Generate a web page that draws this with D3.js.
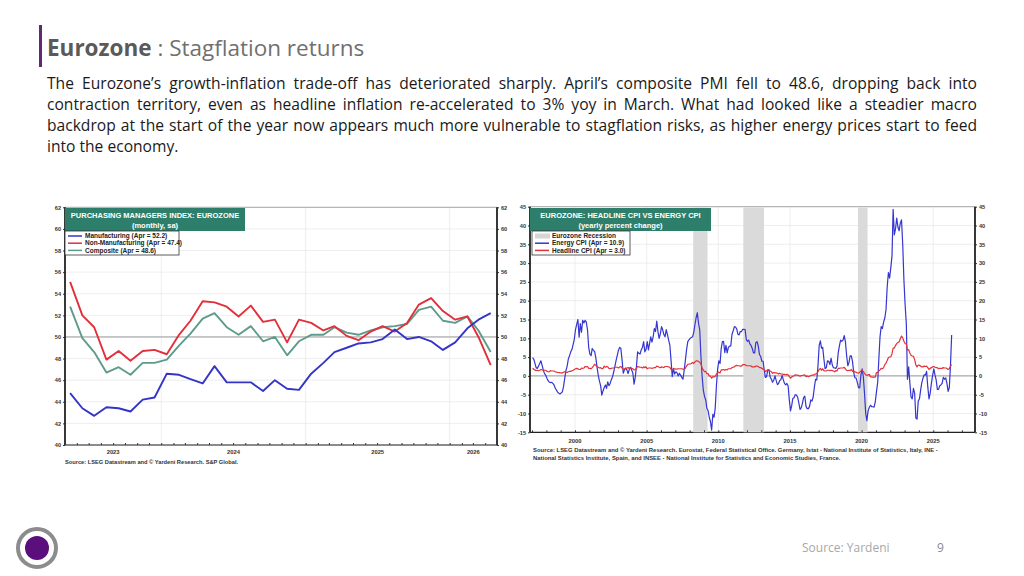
<!DOCTYPE html>
<html>
<head>
<meta charset="utf-8">
<script src="https://cdn.jsdelivr.net/npm/d3@7"></script>
<style>
body { margin: 0; background: #fff; }
svg { display: block; }
.chart text { font-family: "Liberation Sans", Arial, sans-serif; font-weight: bold; }
</style>
</head>
<body>
<svg id="page" width="1024" height="576"></svg>
<script>
// PMI, Eurozone, monthly May 2023 .. Apr 2026
var pmiManufacturing = [44.8, 43.4, 42.7, 43.5, 43.4, 43.1, 44.2, 44.4,
    46.6, 46.5, 46.1, 45.7, 47.3, 45.8, 45.8, 45.8, 45.0, 46.0, 45.2, 45.1,
    46.6, 47.6, 48.6, 49.0, 49.4, 49.5, 49.8, 50.7, 49.8, 50.0, 49.6, 48.8,
    49.5, 50.8, 51.6, 52.2];
var pmiNonManufacturing = [55.1, 52.0, 50.9, 47.9, 48.7, 47.8, 48.7, 48.8,
    48.4, 50.2, 51.5, 53.3, 53.2, 52.8, 51.9, 52.9, 51.4, 51.6, 49.5, 51.6,
    51.3, 50.6, 51.0, 50.1, 49.7, 50.5, 51.0, 50.5, 51.3, 53.0, 53.6, 52.4,
    51.6, 51.9, 50.0, 47.4];
var pmiComposite = [52.8, 49.9, 48.6, 46.7, 47.2, 46.5, 47.6, 47.6,
    47.9, 49.2, 50.3, 51.7, 52.2, 50.9, 50.2, 51.0, 49.6, 50.0, 48.3, 49.6,
    50.2, 50.2, 50.9, 50.4, 50.2, 50.6, 50.9, 51.0, 51.2, 52.5, 52.8, 51.5,
    51.3, 51.9, 50.6, 48.6];
var pmiYTicks = [40, 42, 44, 46, 48, 50, 52, 54, 56, 58, 60, 62];
var pmiYears = [2023, 2024, 2025, 2026];
var pmiLegend = ["Manufacturing (Apr = 52.2)", "Non-Manufacturing (Apr = 47.4)", "Composite (Apr = 48.6)"];

// CPI, Eurozone, yearly percent change, monthly Jan 1997 .. Apr 2026
var cpiEnergy = [
    4.9, 4.4, 3.4, 2.2, 2.0, 2.6, 3.3, 4.0, 2.8, 1.6, 0.6, 0.2,
    -0.6, -1.3, -1.6, -1.8, -1.7, -2.0, -2.4, -3.2, -3.8, -4.3, -4.6, -4.8,
    -4.5, -4.2, -2.8, -0.6, 1.4, 2.6, 4.5, 5.4, 6.4, 7.0, 8.4, 9.8,
    12.4, 13.8, 15.0, 10.3, 13.9, 11.6, 14.8, 14.1, 14.8, 14.3, 12.2, 7.6,
    5.8, 5.4, 7.3, 6.8, 6.5, 4.8, 2.4, 0.2, -1.4, -2.6, -5.1, -4.0,
    -3.1, -2.4, -3.3, -1.6, -2.6, -2.0, -1.0, -0.2, 1.1, 2.6, 4.2, 5.5,
    6.9, 7.6, 7.3, 4.2, 0.7, 1.6, 2.1, 1.6, 0.6, 1.7, 2.3, 1.6,
    0.7, -2.2, -0.4, 2.4, 6.4, 6.0, 5.8, 6.9, 7.6, 9.1, 6.4, 7.0,
    9.1, 6.9, 8.6, 10.4, 9.0, 10.4, 12.6, 11.8, 14.6, 11.8, 10.0, 11.2,
    13.1, 12.2, 11.0, 10.4, 12.3, 11.0, 9.5, 8.2, 4.0, -0.2, 2.0, 0.5,
    1.1, 0.8, 0.0, 0.7, 0.2, -0.4, -0.9, 1.5, 4.2, 7.0, 9.1, 9.6,
    10.0, 10.2, 10.4, 11.6, 13.6, 15.5, 16.8, 14.0, 12.2, 5.1, -0.2, -3.8,
    -5.5, -6.4, -8.6, -9.2, -11.0, -12.2, -14.4, -10.2, -11.0, -8.5, -2.4, 1.8,
    4.0, 3.3, 7.2, 9.1, 9.2, 6.2, 8.1, 6.1, 7.6, 7.9, 8.0, 11.0,
    12.0, 13.1, 13.0, 12.5, 11.1, 10.9, 11.8, 11.8, 12.4, 12.4, 12.3, 9.7,
    9.2, 9.5, 8.5, 8.1, 7.3, 6.1, 6.1, 8.9, 9.1, 8.0, 5.7, 5.2,
    3.9, 3.9, 1.7, -0.4, -0.2, 1.6, 1.6, -0.3, -0.9, -1.7, -1.1, 0.0,
    -1.2, -2.3, -2.1, -1.2, -1.0, 0.1, -1.0, -2.0, -2.4, -2.0, -2.6, -6.3,
    -9.3, -7.9, -6.0, -5.8, -5.0, -5.1, -5.6, -7.2, -8.9, -8.5, -7.3, -5.8,
    -5.4, -8.1, -8.7, -8.7, -8.1, -6.4, -6.7, -5.6, -3.0, -0.9, -1.1, 2.6,
    8.1, 9.3, 7.4, 7.6, 4.5, 1.9, 2.2, 4.0, 3.9, 3.0, 4.7, 2.9,
    2.2, 2.1, 2.0, 2.6, 6.1, 8.0, 9.5, 9.2, 9.5, 10.7, 9.1, 5.5,
    2.7, 3.6, 5.3, 5.3, 3.8, 0.9, -0.5, -0.6, -1.8, -3.1, -3.2, 0.2,
    1.9, -0.3, -4.5, -10.0, -11.9, -9.3, -8.4, -7.8, -8.2, -8.2, -8.3, -6.9,
    -4.2, -1.7, 4.3, 10.4, 13.1, 12.6, 14.3, 15.4, 17.6, 23.7, 27.5, 26.0,
    28.8, 32.0, 44.3, 37.5, 39.1, 42.0, 39.6, 38.6, 40.7, 41.5, 34.9, 25.5,
    18.9, 13.7, -0.9, 2.4, -1.8, -5.6, -6.1, -3.3, -4.6, -11.2, -11.5, -6.7,
    -6.1, -3.7, -1.8, -0.6, 0.3, 0.2, 1.2, -3.0, -6.1, -4.6, -2.0, 0.1,
    1.9, 0.2, -1.0, -3.6, -3.6, -2.6, -2.4, -2.0, -0.4, -0.9, -0.5, -1.9,
    -4.1, -3.1, 2.6, 10.9];
var cpiHeadline = [
    2.0, 1.8, 1.6, 1.4, 1.5, 1.4, 1.5, 1.7, 1.6, 1.5, 1.5, 1.5,
    1.2, 1.1, 1.1, 1.4, 1.3, 1.3, 1.3, 1.1, 1.0, 0.9, 0.9, 0.8,
    0.8, 0.8, 1.0, 1.1, 1.0, 0.9, 1.1, 1.2, 1.2, 1.4, 1.5, 1.7,
    1.9, 2.0, 1.9, 1.7, 1.7, 2.1, 2.0, 2.1, 2.5, 2.4, 2.5, 2.0,
    2.0, 1.9, 2.2, 2.6, 3.1, 2.8, 2.5, 2.3, 2.1, 2.2, 1.9, 2.0,
    2.6, 2.3, 2.5, 2.4, 2.0, 1.9, 2.0, 2.1, 2.1, 2.3, 2.3, 2.3,
    2.1, 2.4, 2.5, 2.1, 1.8, 1.9, 1.9, 2.1, 2.2, 2.0, 2.2, 2.0,
    1.9, 1.6, 1.7, 2.0, 2.5, 2.4, 2.3, 2.3, 2.1, 2.4, 2.2, 2.4,
    1.9, 2.1, 2.1, 2.1, 2.0, 2.1, 2.2, 2.2, 2.6, 2.5, 2.3, 2.2,
    2.4, 2.3, 2.2, 2.5, 2.5, 2.5, 2.4, 2.3, 1.7, 1.6, 1.9, 1.9,
    1.8, 1.8, 1.9, 1.9, 1.9, 1.9, 1.8, 1.7, 2.1, 2.6, 3.1, 3.1,
    3.2, 3.3, 3.6, 3.3, 3.7, 4.0, 4.0, 3.8, 3.6, 3.2, 2.1, 1.6,
    1.1, 1.2, 0.6, 0.6, 0.0, -0.1, -0.6, -0.2, -0.3, -0.1, 0.5, 0.9,
    1.0, 0.8, 1.6, 1.6, 1.7, 1.5, 1.7, 1.6, 1.9, 1.9, 1.9, 2.2,
    2.3, 2.4, 2.7, 2.8, 2.7, 2.7, 2.6, 2.6, 3.0, 3.0, 3.0, 2.7,
    2.7, 2.7, 2.7, 2.6, 2.4, 2.4, 2.4, 2.6, 2.6, 2.5, 2.2, 2.2,
    2.0, 1.8, 1.7, 1.2, 1.4, 1.6, 1.6, 1.3, 1.1, 0.7, 0.9, 0.8,
    0.8, 0.7, 0.5, 0.7, 0.5, 0.5, 0.4, 0.4, 0.3, 0.4, 0.3, -0.2,
    -0.6, -0.3, -0.1, 0.0, 0.3, 0.2, 0.2, 0.1, -0.1, 0.1, 0.1, 0.2,
    0.3, -0.2, 0.0, -0.2, -0.1, 0.1, 0.2, 0.2, 0.4, 0.5, 0.6, 1.1,
    1.7, 2.0, 1.5, 1.9, 1.4, 1.3, 1.3, 1.5, 1.5, 1.4, 1.5, 1.4,
    1.3, 1.1, 1.4, 1.3, 2.0, 2.0, 2.1, 2.1, 2.1, 2.3, 1.9, 1.5,
    1.4, 1.5, 1.4, 1.7, 1.2, 1.3, 1.0, 1.0, 0.8, 0.7, 1.0, 1.3,
    1.4, 1.2, 0.7, 0.3, 0.1, 0.3, 0.4, -0.2, -0.3, -0.3, -0.3, -0.3,
    0.9, 0.9, 1.3, 1.6, 2.0, 1.9, 2.2, 3.0, 3.4, 4.1, 4.9, 5.0,
    5.1, 5.9, 7.4, 7.4, 8.1, 8.6, 8.9, 9.1, 9.9, 10.6, 10.1, 9.2,
    8.6, 8.5, 6.9, 7.0, 6.1, 5.5, 5.3, 5.2, 4.3, 2.9, 2.4, 2.9,
    2.8, 2.6, 2.4, 2.4, 2.6, 2.5, 2.6, 2.2, 1.7, 2.0, 2.2, 2.4,
    2.5, 2.3, 2.2, 2.2, 1.9, 2.0, 2.0, 2.0, 2.2, 2.1, 2.1, 2.0,
    1.7, 1.9, 2.6, 3.0];
var cpiYTicks = [-15, -10, -5, 0, 5, 10, 15, 20, 25, 30, 35, 40, 45];
var cpiYears = [2000, 2005, 2010, 2015, 2020, 2025];
var recessions = [["2008-04-01", "2009-04-01"], ["2011-10-01", "2013-03-10"], ["2019-10-01", "2020-06-01"]];
var cpiLegend = ["Eurozone Recession", "Energy CPI (Apr = 10.9)", "Headline CPI (Apr = 3.0)"];

var bodyLines = [
    "The Eurozone\u2019s growth-inflation trade-off has deteriorated sharply. April\u2019s composite PMI fell to 48.6, dropping back into",
    "contraction territory, even as headline inflation re-accelerated to 3% yoy in March. What had looked like a steadier macro",
    "backdrop at the start of the year now appears much more vulnerable to stagflation risks, as higher energy prices start to feed",
    "into the economy."
];

var svg = d3.select("#page");

// slide header
svg.append("rect").attr("x", 39).attr("y", 25).attr("width", 3).attr("height", 42).attr("fill", "#5e2b72");
var title = svg.append("text").attr("x", 47).attr("y", 56)
    .style("font-family", "'Open Sans', sans-serif").style("font-size", "22.5px");
title.append("tspan").attr("font-weight", "bold").attr("fill", "#5a5a5a").text("Eurozone");
title.append("tspan").attr("fill", "#707070").text(" : Stagflation returns");

// body copy: size the font so the first line nearly fills the column, then justify with word spacing
var probe = svg.append("text").style("font-family", "'Open Sans', sans-serif").style("font-size", "14px").text(bodyLines[0]);
var bodySize = Math.min(15.6, 14 * 912 / probe.node().getComputedTextLength());
probe.remove();
bodyLines.forEach(function (line, i) {
    var t = svg.append("text").attr("x", 47).attr("y", 89 + i * 21)
        .style("font-family", "'Open Sans', sans-serif").style("font-size", bodySize + "px")
        .attr("fill", "#1a1a1a").text(line);
    if (i < bodyLines.length - 1) {
        var w = t.node().getComputedTextLength();
        var gaps = line.split(" ").length - 1;
        t.attr("word-spacing", (930 - w) / gaps);
    }
});

// footer
svg.append("circle").attr("cx", 37).attr("cy", 548).attr("r", 19).attr("fill", "none")
    .attr("stroke", "#8c8c8c").attr("stroke-width", 4);
svg.append("circle").attr("cx", 37).attr("cy", 548).attr("r", 12).attr("fill", "#5a0f7c");
svg.append("text").attr("x", 802).attr("y", 552).style("font-family", "'Open Sans', sans-serif")
    .style("font-size", "12px").attr("fill", "#a8a8a8").text("Source: Yardeni");
svg.append("text").attr("x", 937).attr("y", 552).style("font-family", "'Open Sans', sans-serif")
    .style("font-size", "12px").attr("fill", "#8a8a8a").text("9");

// shared pieces of a Yardeni style panel
function drawFrame(g, x, y, yTicks, baseValue) {
    var x0 = x.range()[0], x1 = x.range()[1], yBot = y.range()[0], yTop = y.range()[1];
    g.append("g").selectAll("line").data(yTicks).enter().append("line")
        .attr("x1", x0).attr("x2", x1)
        .attr("y1", function (d) { return y(d); })
        .attr("y2", function (d) { return y(d); })
        .attr("stroke", "#e6e6e6").attr("stroke-width", 0.7);
    g.append("line").attr("x1", x0).attr("x2", x1).attr("y1", y(baseValue)).attr("y2", y(baseValue))
        .attr("stroke", "#9a9a9a").attr("stroke-width", 1);

    var fmt = function (d) { return String(d); };
    var left = g.append("g").attr("transform", "translate(" + x0 + ",0)")
        .call(d3.axisLeft(y).tickValues(yTicks).tickFormat(fmt).tickSize(2).tickPadding(2));
    var right = g.append("g").attr("transform", "translate(" + x1 + ",0)")
        .call(d3.axisRight(y).tickValues(yTicks).tickFormat(fmt).tickSize(2).tickPadding(2));
    [left, right].forEach(function (a) {
        a.select(".domain").remove();
        a.selectAll("line").attr("stroke", "#333");
        a.selectAll("text").attr("fill", "#333").style("font-size", "5.6px");
    });

    g.append("line").attr("x1", x0).attr("x2", x1).attr("y1", yTop).attr("y2", yTop)
        .attr("stroke", "#777").attr("stroke-width", 0.6);
    g.append("line").attr("x1", x0).attr("x2", x1).attr("y1", yBot).attr("y2", yBot)
        .attr("stroke", "#222").attr("stroke-width", 1.2);
    g.append("line").attr("x1", x0).attr("x2", x0).attr("y1", yTop).attr("y2", yBot)
        .attr("stroke", "#222").attr("stroke-width", 1.8);
    g.append("line").attr("x1", x1).attr("x2", x1).attr("y1", yTop).attr("y2", yBot)
        .attr("stroke", "#222").attr("stroke-width", 1.8);
}

function drawTitleBox(g, x0, y0, w, line1, line2) {
    g.append("rect").attr("x", x0).attr("y", y0).attr("width", w).attr("height", 23).attr("fill", "#2e7e6c");
    g.append("text").attr("x", x0 + w / 2).attr("y", y0 + 9.5).attr("text-anchor", "middle")
        .attr("fill", "#fff").style("font-size", "7.5px").text(line1);
    g.append("text").attr("x", x0 + w / 2).attr("y", y0 + 19.5).attr("text-anchor", "middle")
        .attr("fill", "#fff").style("font-size", "7.5px").text(line2);
}

function drawLegend(g, x0, y0, w, labels, kinds) {
    g.append("rect").attr("x", x0).attr("y", y0).attr("width", w).attr("height", 24)
        .attr("fill", "#fff").attr("stroke", "#333").attr("stroke-width", 0.8);
    labels.forEach(function (label, i) {
        var cy = y0 + 5 + i * 7.2;
        if (kinds[i].rect) {
            g.append("rect").attr("x", x0 + 3).attr("y", cy - 2.5).attr("width", 15).attr("height", 5).attr("fill", kinds[i].rect);
        } else {
            g.append("line").attr("x1", x0 + 3).attr("x2", x0 + 17).attr("y1", cy).attr("y2", cy)
                .attr("stroke", kinds[i].line).attr("stroke-width", 1.5);
        }
        g.append("text").attr("x", x0 + 20).attr("y", cy + 2.2).attr("fill", "#222")
            .style("font-size", "6.5px").text(label);
    });
}

// ---- left panel: PMI ----
var pmiMonths = d3.range(pmiComposite.length).map(function (i) { return new Date(2023, 4 + i, 15); });
var xPmi = d3.scaleTime().domain([new Date(2023, 4, 2), new Date(2026, 4, 1)]).range([65, 497]);
var yPmi = d3.scaleLinear().domain([40, 62]).range([445, 207.3]);
var gPmi = svg.append("g").attr("class", "chart");

gPmi.append("g").selectAll("line").data(pmiYears.slice(1)).enter().append("line")
    .attr("x1", function (d) { return xPmi(new Date(d, 0, 1)); })
    .attr("x2", function (d) { return xPmi(new Date(d, 0, 1)); })
    .attr("y1", 207.3).attr("y2", 445).attr("stroke", "#e6e6e6").attr("stroke-width", 0.7);
drawFrame(gPmi, xPmi, yPmi, pmiYTicks, 50);

gPmi.append("g").attr("transform", "translate(0,445)")
    .call(d3.axisBottom(xPmi).ticks(d3.timeMonth.every(1)).tickSize(-2).tickFormat(""))
    .call(function (a) { a.select(".domain").remove(); a.selectAll("line").attr("stroke", "#333"); });

gPmi.selectAll(".yearLabel").data(pmiYears).enter().append("text")
    .attr("x", function (d) {
        var a = Math.max(65, xPmi(new Date(d, 0, 1)));
        var b = Math.min(497, xPmi(new Date(d + 1, 0, 1)));
        return (a + b) / 2;
    })
    .attr("y", 454).attr("text-anchor", "middle").attr("fill", "#333").style("font-size", "5.8px")
    .text(function (d) { return d; });

var pmiLine = d3.line()
    .x(function (d, i) { return xPmi(pmiMonths[i]); })
    .y(function (d) { return yPmi(d); });
[[pmiComposite, "#5d9c8b"], [pmiNonManufacturing, "#e1303b"], [pmiManufacturing, "#3434c8"]].forEach(function (s) {
    gPmi.append("path").datum(s[0]).attr("d", pmiLine).attr("fill", "none")
        .attr("stroke", s[1]).attr("stroke-width", 1.9).attr("stroke-linejoin", "round");
});

drawTitleBox(gPmi, 65, 208, 180, "PURCHASING MANAGERS INDEX: EUROZONE", "(monthly, sa)");
drawLegend(gPmi, 65, 231, 114, pmiLegend, [{line: "#3434c8"}, {line: "#e1303b"}, {line: "#5d9c8b"}]);
gPmi.append("text").attr("x", 65).attr("y", 464).attr("fill", "#333").style("font-size", "5.7px")
    .text("Source: LSEG Datastream and \u00a9 Yardeni Research. S&P Global.");

// ---- right panel: CPI ----
var cpiMonths = d3.range(cpiEnergy.length).map(function (i) { return new Date(1997, i, 15); });
var xCpi = d3.scaleTime().domain([new Date(1996, 10, 10), new Date(2027, 11, 1)]).range([530, 975]);
var yCpi = d3.scaleLinear().domain([-15, 45]).range([432.3, 206.7]);
var gCpi = svg.append("g").attr("class", "chart");

gCpi.append("g").selectAll("line").data(cpiYears).enter().append("line")
    .attr("x1", function (d) { return xCpi(new Date(d, 0, 1)); })
    .attr("x2", function (d) { return xCpi(new Date(d, 0, 1)); })
    .attr("y1", 206.7).attr("y2", 432.3).attr("stroke", "#e6e6e6").attr("stroke-width", 0.7);
drawFrame(gCpi, xCpi, yCpi, cpiYTicks, 0);

gCpi.append("g").selectAll("rect").data(recessions).enter().append("rect")
    .attr("x", function (d) { return xCpi(new Date(d[0])); })
    .attr("width", function (d) { return xCpi(new Date(d[1])) - xCpi(new Date(d[0])); })
    .attr("y", 207.5).attr("height", 432.3 - 207.5).attr("fill", "#dadada");

gCpi.append("g").attr("transform", "translate(0,432.3)")
    .call(d3.axisBottom(xCpi).ticks(d3.timeYear.every(1)).tickSize(-2).tickFormat(""))
    .call(function (a) { a.select(".domain").remove(); a.selectAll("line").attr("stroke", "#333"); });
gCpi.selectAll(".yearLabel").data(cpiYears).enter().append("text")
    .attr("x", function (d) { return xCpi(new Date(d, 0, 1)); })
    .attr("y", 443).attr("text-anchor", "middle").attr("fill", "#333").style("font-size", "5.8px")
    .text(function (d) { return d; });

var cpiLine = d3.line()
    .x(function (d, i) { return xCpi(cpiMonths[i]); })
    .y(function (d) { return yCpi(d); });
gCpi.append("path").datum(cpiEnergy).attr("d", cpiLine).attr("fill", "none")
    .attr("stroke", "#3535d2").attr("stroke-width", 1.2).attr("stroke-linejoin", "round");
gCpi.append("path").datum(cpiHeadline).attr("d", cpiLine).attr("fill", "none")
    .attr("stroke", "#e5323a").attr("stroke-width", 1.2).attr("stroke-linejoin", "round");

drawTitleBox(gCpi, 530, 208, 181, "EUROZONE: HEADLINE CPI VS ENERGY CPI", "(yearly percent change)");
drawLegend(gCpi, 532, 231, 98, cpiLegend, [{rect: "#d6d6d6"}, {line: "#3535d2"}, {line: "#e5323a"}]);
gCpi.append("text").attr("x", 533).attr("y", 452).attr("fill", "#333").style("font-size", "5.9px")
    .text("Source: LSEG Datastream and \u00a9 Yardeni Research. Eurostat, Federal Statistical Office. Germany, Istat - National Institute of Statistics, Italy, INE -");
gCpi.append("text").attr("x", 533).attr("y", 460).attr("fill", "#333").style("font-size", "5.9px")
    .text("National Statistics Institute, Spain, and INSEE - National Institute for Statistics and Economic Studies, France.");
</script>
</body>
</html>
